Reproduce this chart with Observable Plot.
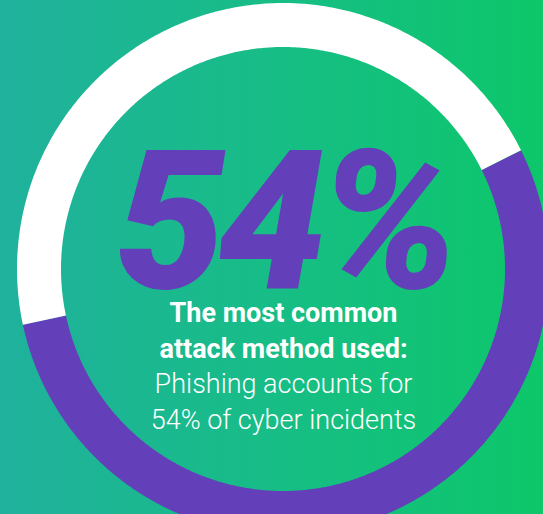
<!DOCTYPE html>
<html><head><meta charset="utf-8">
<script src="https://cdn.jsdelivr.net/npm/d3@7"></script>
<script src="https://cdn.jsdelivr.net/npm/@observablehq/plot@0.6"></script>
<style>
html,body{margin:0;padding:0;overflow:hidden;}
body{width:543px;height:514px;background:linear-gradient(90deg,#20b19d 0%,#17bd86 50%,#0dc76a 100%);}
#chart svg{display:block;}
</style>
</head><body><div id="chart"></div>
<script>
// ---- data ----
const categories = ["Phishing", "Other attack methods"];
const shares = [54, 46];
const headline = "54%";
const boldLines = ["The most common", "attack method used:"];
const lightLines = ["Phishing accounts for", "54% of cyber incidents"];

// ---- layout ----
const W = 543, H = 514, cx = 283, cy = 269, R = 266, rIn = 222;
const k = rIn / R;
const startDeg = 63.5; // compass angle where the first slice begins
const purple = "#6340b9";

// build ring slices from shares (angles are geometry, not data)
const total = d3.sum(shares);
const ring = [];
let acc = startDeg;
categories.forEach((c, i) => {
  const a0 = acc, a1 = acc + shares[i] / total * 360;
  acc = a1;
  const n = Math.max(2, Math.ceil((a1 - a0) / 0.5));
  for (let j = 0; j <= n; j++) {
    const t = (a0 + (a1 - a0) * j / n) * Math.PI / 180;
    ring.push({cat: c, x1: Math.sin(t), y1: Math.cos(t), x2: k * Math.sin(t), y2: k * Math.cos(t)});
  }
});

const line = (txt, dy, opts) => Plot.text([txt], {x: 0, y: 0, text: d => d, dy, lineAnchor: "bottom", fontFamily: "Roboto", ...opts});

const chart = Plot.plot({
  width: W, height: H,
  margin: 0,
  x: {domain: [-cx / R, (W - cx) / R], axis: null},
  y: {domain: [-(H - cy) / R, cy / R], axis: null},
  color: {domain: categories, range: [purple, "#ffffff"]},
  style: {background: "transparent", overflow: "visible"},
  marks: [
    Plot.area(ring, {x1: "x1", y1: "y1", x2: "x2", y2: "y2", fill: "cat", z: "cat", curve: "linear"}),
    line(headline, 18, {fill: purple, fontWeight: 900, fontStyle: "italic", fontSize: 195, className: "headline"}),
    line(boldLines[0], 52, {fill: "white", fontWeight: 700, fontSize: 27}),
    line(boldLines[1], 88, {fill: "white", fontWeight: 700, fontSize: 27}),
    line(lightLines[0], 123, {fill: "white", fontWeight: 300, fontSize: 27}),
    line(lightLines[1], 159, {fill: "white", fontWeight: 300, fontSize: 27})
  ]
});
document.getElementById("chart").appendChild(chart);
d3.select(chart).selectAll(".headline text").style("letter-spacing", "-8px");
</script>
</body></html>
